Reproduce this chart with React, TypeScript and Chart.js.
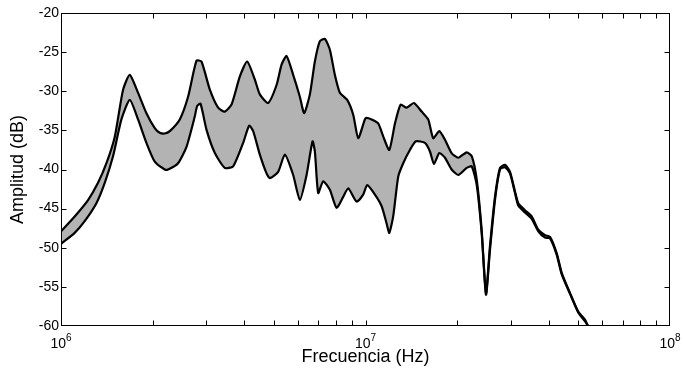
import React, { useEffect, useRef } from 'react';
import { Chart, registerables } from 'chart.js';

Chart.register(...registerables);

// Upper envelope (frequency in MHz, amplitude in dB)
const UPPER_FREQ_MHZ = [1.00, 1.109, 1.227, 1.323, 1.410, 1.502, 1.599, 1.682, 1.791, 1.908, 2.032, 2.110, 2.192, 2.276, 2.455, 2.614, 2.786, 2.893, 3.082, 3.281, 3.451, 3.631, 3.867, 4.086, 4.330, 4.498, 4.789, 5.104, 5.301, 5.505, 5.787, 6.087, 6.289, 6.566, 6.819, 7.082, 7.355, 7.638, 7.932, 8.239, 8.709, 9.113, 9.463, 9.954, 10.08, 10.47, 11.01, 11.44, 11.97, 12.50, 13.04, 13.65, 14.42, 15.29, 16.07, 16.69, 17.47, 18.24, 19.18, 20.17, 21.49, 22.33, 23.19, 24.07, 24.87, 25.63, 26.62, 27.65, 28.71, 29.82, 30.97, 31.75, 33.40, 35.14, 36.94, 38.86, 40.36, 42.46, 44.10, 46.96, 50.01, 52.61, 53.94];
const UPPER_DB = [-47.9, -46.0, -43.9, -41.7, -39.2, -35.8, -29.8, -27.9, -30.2, -32.8, -34.7, -35.3, -35.4, -35.1, -33.6, -30.7, -26.1, -26.2, -29.8, -32.1, -32.6, -31.7, -28.1, -26.2, -28.5, -30.4, -31.5, -29.2, -26.6, -25.5, -27.9, -30.7, -32.8, -30.4, -26.2, -23.6, -23.3, -24.7, -27.9, -30.2, -31.1, -33.0, -36.0, -33.6, -33.4, -33.6, -34.1, -35.8, -37.5, -34.1, -31.7, -32.1, -31.5, -32.6, -33.6, -36.0, -35.1, -36.2, -37.9, -38.5, -37.8, -38.3, -41.3, -47.7, -55.8, -49.8, -43.5, -39.8, -39.4, -40.3, -42.8, -44.3, -45.2, -46.0, -47.7, -48.4, -48.6, -50.7, -53.2, -55.8, -58.2, -59.2, -60.1];

// Lower envelope (frequency in MHz, amplitude in dB)
const LOWER_FREQ_MHZ = [1.00, 1.109, 1.196, 1.307, 1.392, 1.482, 1.579, 1.682, 1.791, 1.908, 2.032, 2.192, 2.247, 2.424, 2.583, 2.751, 2.799, 2.872, 3.004, 3.201, 3.451, 3.675, 3.965, 4.148, 4.276, 4.498, 4.732, 4.852, 5.166, 5.435, 5.787, 6.087, 6.404, 6.700, 6.819, 6.993, 7.262, 7.638, 8.035, 8.448, 8.776, 9.350, 9.827, 10.13, 10.74, 11.30, 11.73, 11.97, 12.33, 12.81, 13.30, 13.99, 14.64, 15.68, 16.28, 16.78, 17.47, 18.24, 19.18, 20.17, 21.49, 22.33, 23.19, 24.07, 24.87, 25.63, 26.62, 27.65, 28.71, 29.82, 30.97, 31.75, 33.40, 35.14, 36.94, 38.86, 40.36, 42.46, 44.10, 46.96, 50.01, 52.61, 53.94];
const LOWER_DB = [-49.5, -48.1, -46.6, -44.3, -41.7, -38.3, -33.6, -31.1, -33.6, -36.6, -39.0, -40.0, -40.0, -39.2, -37.1, -33.2, -31.9, -31.6, -34.9, -37.9, -39.8, -39.6, -36.6, -34.4, -35.1, -38.1, -40.5, -41.1, -40.3, -38.1, -40.7, -43.9, -40.7, -36.4, -37.7, -43.0, -41.5, -42.6, -44.9, -43.5, -42.4, -44.1, -43.2, -42.0, -43.2, -44.7, -46.9, -48.1, -46.0, -40.9, -39.2, -37.5, -36.4, -36.6, -37.7, -39.3, -37.9, -38.5, -40.0, -40.7, -39.8, -39.6, -42.0, -48.1, -56.0, -50.3, -43.9, -40.0, -39.7, -40.5, -43.0, -44.6, -45.5, -46.3, -47.9, -48.7, -48.8, -50.9, -53.4, -55.9, -58.3, -59.4, -60.1];

const Y_MIN = -60;
const Y_MAX = -20;
const Y_STEP = 5;
const X_DECADES = [6, 7, 8];
const X_MINOR_MULTIPLIERS = [2, 3, 4, 5, 6, 7, 8, 9];

const X_TITLE = 'Frecuencia (Hz)';
const Y_TITLE = 'Amplitud (dB)';

const FONT = "'Liberation Sans', Arial, Helvetica, sans-serif";

export default function App() {
  const ref = useRef<HTMLCanvasElement>(null);

  useEffect(() => {
    document.body.style.margin = '0';
    const toPts = (f: number[], d: number[]) => f.map((v, i) => ({ x: v * 1e6, y: d[i] }));

    const framePlugin = {
      id: 'frame',
      afterDraw(chart: any) {
        const { ctx, chartArea: a, scales } = chart;
        const xs = scales.x;
        const ys = scales.y;
        ctx.save();
        ctx.strokeStyle = '#000';
        ctx.lineWidth = 1;
        const L = Math.round(a.left) + 0.5;
        const R = Math.round(a.right) - 0.5;
        const T = Math.round(a.top) + 0.5;
        const B = Math.round(a.bottom) - 0.5;
        ctx.strokeRect(L, T, R - L, B - T);
        const TL = 5;
        ctx.beginPath();
        for (let k = 0; k < X_DECADES.length; k++) {
          const e = X_DECADES[k];
          const vals = [Math.pow(10, e)];
          if (k < X_DECADES.length - 1) {
            for (const m of X_MINOR_MULTIPLIERS) vals.push(m * Math.pow(10, e));
          }
          for (const v of vals) {
            const px = Math.round(xs.getPixelForValue(v)) + 0.5;
            if (px <= L + 1 || px >= R - 1) continue;
            ctx.moveTo(px, B);
            ctx.lineTo(px, B - TL);
            ctx.moveTo(px, T);
            ctx.lineTo(px, T + TL);
          }
        }
        for (let v = Y_MIN + Y_STEP; v < Y_MAX; v += Y_STEP) {
          const py = Math.round(ys.getPixelForValue(v)) + 0.5;
          ctx.moveTo(L, py);
          ctx.lineTo(L + TL, py);
          ctx.moveTo(R, py);
          ctx.lineTo(R - TL, py);
        }
        ctx.stroke();

        ctx.fillStyle = '#000';
        ctx.textBaseline = 'alphabetic';
        ctx.textAlign = 'left';
        for (const e of X_DECADES) {
          const px = xs.getPixelForValue(Math.pow(10, e));
          ctx.font = `14px ${FONT}`;
          const w1 = ctx.measureText('10').width;
          ctx.font = `10px ${FONT}`;
          const w2 = ctx.measureText(String(e)).width;
          const start = px - (w1 + w2) / 2;
          ctx.font = `14px ${FONT}`;
          ctx.fillText('10', start, a.bottom + 22);
          ctx.font = `10px ${FONT}`;
          ctx.fillText(String(e), start + w1, a.bottom + 15);
        }
        ctx.restore();
      },
    };

    const chart = new Chart(ref.current as HTMLCanvasElement, {
      type: 'line',
      data: {
        datasets: [
          {
            label: 'upper',
            data: toPts(UPPER_FREQ_MHZ, UPPER_DB),
            borderColor: '#000',
            borderWidth: 2.2,
            backgroundColor: '#b3b3b3',
            fill: '+1',
            pointRadius: 0,
            tension: 0.2,
            borderJoinStyle: 'round',
          },
          {
            label: 'lower',
            data: toPts(LOWER_FREQ_MHZ, LOWER_DB),
            borderColor: '#000',
            borderWidth: 2.2,
            fill: false,
            pointRadius: 0,
            tension: 0.2,
            borderJoinStyle: 'round',
          },
        ],
      },
      options: {
        animation: false,
        responsive: false,
        maintainAspectRatio: false,
        layout: { padding: { top: 13, right: 13, left: 0, bottom: 0 } },
        plugins: {
          legend: { display: false },
          tooltip: { enabled: false },
          filler: { drawTime: 'beforeDatasetsDraw' },
        },
        scales: {
          x: {
            type: 'logarithmic',
            min: 1e6,
            max: 1e8,
            grid: { display: false, drawTicks: false, tickLength: 0 },
            border: { display: false },
            ticks: { display: false },
            title: {
              display: true,
              text: X_TITLE,
              color: '#000',
              font: { family: FONT, size: 18 },
              padding: { top: 0, bottom: 2 },
            },
            afterFit: (s: any) => {
              s.height = 44;
            },
          },
          y: {
            min: Y_MIN,
            max: Y_MAX,
            grid: { display: false, drawTicks: false, tickLength: 0 },
            border: { display: false },
            ticks: {
              stepSize: Y_STEP,
              color: '#000',
              font: { family: FONT, size: 14 },
              padding: 2,
            },
            title: {
              display: true,
              text: Y_TITLE,
              color: '#000',
              font: { family: FONT, size: 18 },
              padding: { top: 7, bottom: 0 },
            },
            afterFit: (s: any) => {
              s.width = 61;
            },
          },
        },
      } as any,
      plugins: [framePlugin],
    });
    return () => chart.destroy();
  }, []);

  return (
    <div style={{ width: 683, height: 370 }}>
      <canvas ref={ref} width={683} height={370} style={{ display: 'block' }} />
    </div>
  );
}
